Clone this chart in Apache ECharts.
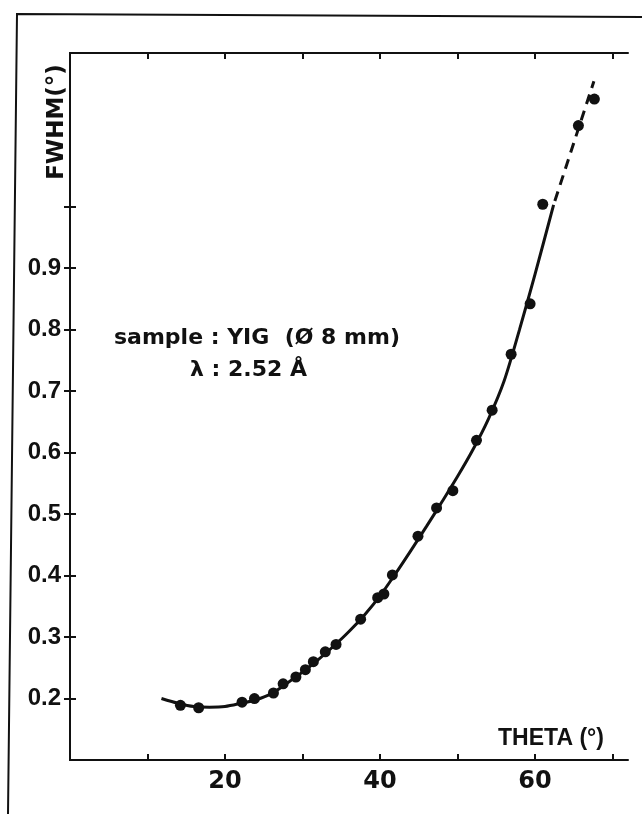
<!DOCTYPE html>
<html>
<head>
<meta charset="utf-8">
<script src="https://cdn.jsdelivr.net/npm/echarts@6/dist/echarts.min.js"></script>
<style>
html,body{margin:0;padding:0;background:#fff;}
#chart{width:642px;height:814px;}
</style>
</head>
<body>
<div id="chart"></div>
<script>
// Measured points: THETA (deg) vs FWHM (deg)
var thetaPts = [14.25, 16.6, 22.2, 23.8, 26.25, 27.5, 29.15, 30.37, 31.4, 32.94, 34.33, 37.5, 39.7, 40.5, 41.6, 44.9, 47.3, 49.4, 52.45, 54.47, 56.92, 59.37, 61.0, 65.6, 67.66];
var fwhmPts  = [0.189, 0.185, 0.194, 0.2, 0.209, 0.224, 0.235, 0.247, 0.26, 0.276, 0.288, 0.329, 0.364, 0.37, 0.401, 0.464, 0.51, 0.538, 0.62, 0.669, 0.76, 0.842, 1.004, 1.132, 1.175];

// Fitted curve (solid)
var fitTheta = [11.8, 14, 16, 18, 20, 22, 24, 26, 28, 30, 32, 34, 36, 38, 40, 42, 44, 46, 48, 50, 52, 54, 56, 58, 60, 62.4];
var fitFwhm  = [0.200, 0.192, 0.187, 0.186, 0.187, 0.192, 0.198, 0.208, 0.225, 0.243, 0.263, 0.285, 0.309, 0.336, 0.367, 0.403, 0.441, 0.480, 0.520, 0.561, 0.605, 0.655, 0.716, 0.800, 0.890, 1.003];

// Extrapolated curve (dashed)
var extTheta = [62.4, 67.6];
var extFwhm  = [1.003, 1.204];

// Ticks and labels
var xTicks = [10, 20, 30, 40, 50, 60, 70];
var xLabels = [20, 40, 60];
var yTicks = [0.2, 0.3, 0.4, 0.5, 0.6, 0.7, 0.8, 0.9, 1.0];
var yLabels = [0.2, 0.3, 0.4, 0.5, 0.6, 0.7, 0.8, 0.9];

function zip(a, b) { return a.map(function (v, i) { return [v, b[i]]; }); }

var ink = '#111';
function axisLine() { return { show: true, lineStyle: { color: ink, width: 2 } }; }
function ticks(vals) {
  return { show: true, inside: true, length: 6, customValues: vals, lineStyle: { color: ink, width: 2 } };
}

var chart = echarts.init(document.getElementById('chart'), null, { renderer: 'canvas' });
chart.setOption({
  animation: false,
  backgroundColor: '#fff',
  grid: { left: 70, right: 14, top: 53, bottom: 54, show: false },
  xAxis: [
    {
      type: 'value', min: 0, max: 72, interval: 10, position: 'bottom',
      axisLine: axisLine(),
      axisTick: ticks(xTicks),
      axisLabel: {
        customValues: xLabels, color: ink, fontSize: 24, fontWeight: 'bold',
        fontFamily: 'DejaVu Sans', margin: 10
      },
      splitLine: { show: false }
    },
    {
      type: 'value', min: 0, max: 72, interval: 10, position: 'top',
      axisLine: axisLine(),
      axisTick: ticks(xTicks),
      axisLabel: { show: false },
      splitLine: { show: false }
    }
  ],
  yAxis: [
    {
      type: 'value', min: 0.1, max: 1.25, interval: 0.1, position: 'left',
      axisLine: axisLine(),
      axisTick: ticks(yTicks),
      axisLabel: {
        customValues: yLabels, color: ink, fontSize: 24, fontWeight: 'bold',
        fontFamily: 'Liberation Sans', margin: 9,
        formatter: function (v) { return Number(v).toFixed(1); }
      },
      splitLine: { show: false }
    },
    {
      type: 'value', min: 0.1, max: 1.25, interval: 0.1, position: 'right',
      axisLine: axisLine(),
      axisTick: ticks(yTicks),
      axisLabel: { show: false },
      splitLine: { show: false }
    }
  ],
  series: [
    {
      type: 'line', data: zip(fitTheta, fitFwhm), smooth: 0.3,
      showSymbol: false, symbol: 'none',
      lineStyle: { color: ink, width: 3 }, z: 2
    },
    {
      type: 'line', data: zip(extTheta, extFwhm), showSymbol: false, symbol: 'none',
      lineStyle: { color: ink, width: 3, type: [10, 7], dashOffset: -4 }, z: 2
    },
    {
      type: 'scatter', data: zip(thetaPts, fwhmPts), symbol: 'circle', symbolSize: 11,
      itemStyle: { color: ink, opacity: 1 }, z: 3
    }
  ],
  graphic: [
    {
      type: 'polyline', silent: true,
      shape: { points: [[8, 814], [17, 14], [642, 17]] },
      style: { stroke: ink, lineWidth: 2, fill: null }
    },
    {
      type: 'text', x: 57, y: 122, rotation: Math.PI / 2,
      style: {
        text: 'FWHM(°)', fill: ink, font: 'bold 23px "DejaVu Sans"',
        textAlign: 'center', textVerticalAlign: 'middle'
      }
    },
    {
      type: 'text', x: 551, y: 739,
      style: {
        text: 'THETA (°)', fill: ink, font: 'bold 23px "Liberation Sans"',
        textAlign: 'center', textVerticalAlign: 'middle'
      }
    },
    {
      type: 'text', x: 114, y: 338,
      style: {
        text: 'sample : YIG  (Ø 8 mm)', fill: ink, font: 'bold 22px "DejaVu Sans"',
        textAlign: 'left', textVerticalAlign: 'middle'
      }
    },
    {
      type: 'text', x: 190, y: 370,
      style: {
        text: 'λ : 2.52 Å', fill: ink, font: 'bold 22px "DejaVu Sans"',
        textAlign: 'left', textVerticalAlign: 'middle'
      }
    }
  ]
});
</script>
</body>
</html>
